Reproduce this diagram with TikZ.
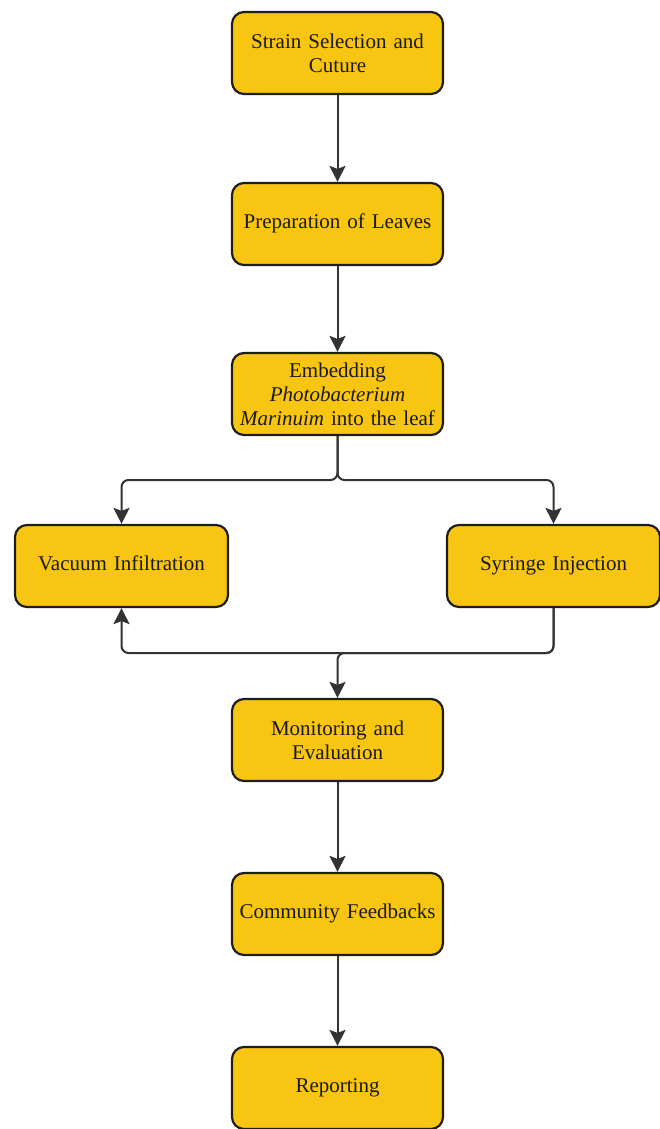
\documentclass[tikz,border=0pt]{standalone}
\usepackage{fontspec}
\setmainfont{Liberation Serif}
\usetikzlibrary{arrows.meta}
\definecolor{boxfill}{HTML}{F8C512}
\definecolor{boxline}{HTML}{1E1E1E}
\definecolor{arrowc}{HTML}{333333}
\definecolor{textc}{HTML}{1A1A1A}
\begin{document}
\begin{tikzpicture}[x=1pt,y=-1pt,
  stepbox/.style={draw=boxline, line width=2.2pt, fill=boxfill, rounded corners=12pt,
    minimum width=211pt, minimum height=82pt, inner sep=2pt, align=center,
    text width=205pt, font=\fontsize{21}{24}\selectfont, text=textc},
  oneline/.style={text height=14pt, text depth=5pt},
  conn/.style={draw=arrowc, line width=2pt, rounded corners=7pt,
    -{Stealth[length=16pt,width=16pt,inset=3pt]}}]
\useasboundingbox (0,0) rectangle (660,1129);
\node[stepbox] (s1) at (337.5,53) {Strain Selection and\\Cuture};
\node[stepbox, oneline] (s2) at (337.5,224) {Preparation of Leaves};
\node[stepbox] (s3) at (337.5,394) {Embedding\\\textit{Photobacterium}\\\textit{Marinuim} into the leaf};
\node[stepbox, oneline, minimum width=213pt] (vac) at (121.5,566) {Vacuum Infiltration};
\node[stepbox, oneline, minimum width=213pt] (syr) at (553.5,566) {Syringe Injection};
\node[stepbox] (mon) at (337.5,740) {Monitoring and\\Evaluation};
\node[stepbox, oneline] (com) at (337.5,914) {Community Feedbacks};
\node[stepbox, oneline] (rep) at (337.5,1088) {Reporting};
\coordinate (split) at (337.5,480);
\coordinate (merge) at (337.5,653);
\draw[conn] (s1) -- (s2);
\draw[conn] (s2) -- (s3);
\draw[conn] (s3.south) -- (split) -| (vac.north);
\draw[conn] (s3.south) -- (split) -| (syr.north);
\draw[conn] (syr.south) |- (merge) -| (vac.south);
\draw[conn] (syr.south) |- (merge) -- (mon.north);
\draw[conn] (mon) -- (com);
\draw[conn] (com) -- (rep);
\end{tikzpicture}
\end{document}
